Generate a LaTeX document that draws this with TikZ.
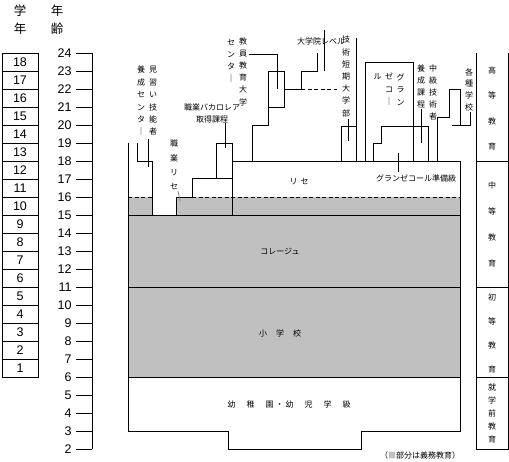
\documentclass[tikz,border=0pt]{standalone}
\usepackage{fontspec}
\setmainfont{Liberation Sans}
\newfontfamily\jp{Noto Sans CJK JP}
\usetikzlibrary{positioning}
\definecolor{dutygray}{RGB}{192,192,192}

\tikzset{
    jtext/.style={font=\jp\fontsize{8}{12}\selectfont, inner sep=0pt, align=center},
    jvert/.style={inner sep=0pt, align=center, font=\jp\fontsize{8}{#1}\selectfont},
    jhead/.style={inner sep=0pt, font=\jp\fontsize{12.5}{14}\selectfont},
    agenum/.style={inner sep=0pt, font=\fontsize{12.5}{14}\selectfont},
    gradebox/.style={draw, minimum width=36pt, minimum height=18pt, inner sep=0pt,
        font=\fontsize{12.5}{14}\selectfont},
    dashline/.style={dash pattern=on 4pt off 2.5pt},
}

\begin{document}
\begin{tikzpicture}[x=1pt, y=-1pt, line width=0.9pt]
    \useasboundingbox (0,0) rectangle (509,461);

    % headers
    \node[jhead] (hdgrade1) at (20,11) {学};
    \node[jhead] (hdgrade2) at (20,29) {年};
    \node[jhead] (hdage1) at (57,11) {年};
    \node[jhead] (hdage2) at (57,29) {齢};

    % school years
    \foreach \g in {1,...,18}
        \node[gradebox] (gr\g) at (20,{386-18*\g}) {\g};

    % age scale
    \foreach \a in {2,...,24} {
        \node[agenum, anchor=east] (age\a) at (72,{485-18*\a}) {\a};
        \coordinate (tick\a) at (92,{485-18*\a});
        \draw ([xshift=4pt]age\a.east) -- (tick\a);
    }
    \draw (tick24) -- (tick2);

    % compulsory part
    \fill[dutygray] (128,215) rectangle (460,377);
    \fill[dutygray] (128,197) rectangle (152,215);
    \fill[dutygray] (176,197) rectangle (460,215);

    % main frame
    \draw (128,143) -- (128,431) -- (228,431) -- (228,449) -- (361,449)
        -- (361,431) -- (460,431) -- (460,161) -- (232,161);
    \draw (128,377) -- (460,377);
    \draw (128,287) -- (460,287);
    \draw (128,215) -- (460,215);
    \draw[dashline] (128,197) -- (152,197);
    \draw[dashline] (192,197) -- (460,197);

    % apprentices
    \draw (137,143) -- (137,161) -- (152,161) -- (152,215);
    \draw (148,139) -- (148,167);
    % vocational lycee
    \draw (176,215) -- (176,197) -- (192,197) -- (192,178) -- (216,178)
        -- (216,143) -- (232,143) -- (232,215);
    \draw (216,178) -- (232,178);
    \draw (225,123) -- (225,148);
    \draw[gray, line width=0.7pt] (178,191) -- (180,201);

    % teacher training
    \draw (252,161) -- (252,125) -- (268,125) -- (268,107);
    \draw (268,71) rectangle (284,107);
    \draw (249,54) -- (277,54) -- (277,89);
    % graduate level
    \draw (284,89) -- (301,89) -- (301,71) -- (317,71) -- (317,53);
    \draw[dashline] (301,89) -- (337,89);
    \draw (324,30) -- (324,71);
    % technical institutes
    \draw (341,161) -- (341,126) -- (356,126);
    \draw (356,38) -- (356,161);
    \draw (348,119) -- (348,141);
    % grandes ecoles
    \draw (365,161) -- (365,62) -- (413,62) -- (413,161);
    \draw (373,161) -- (373,143) -- (381,143) -- (381,126) -- (428,126) -- (428,161);
    \draw (398,153) -- (398,172);
    \draw (421,109) -- (421,143);
    % other schools
    \draw (437,161) -- (437,117) -- (449,117) -- (449,89) -- (460,89) -- (460,125);
    \draw (470,112) -- (470,125) -- (452,125);

    % stages column
    \draw (476,53) -- (476,449) -- (508,449) -- (508,53);
    \draw (476,161) -- (508,161);
    \draw (476,287) -- (508,287);
    \draw (476,377) -- (508,377);

    % labels
    \node[jvert=12.4] (cfa2) at (153,101) {見\\習\\い\\技\\能\\者};
    \node[jvert=12.4] (cfa1) at (141,101) {養\\成\\セ\\ン\\タ\\｜};
    \node[jvert=14.3] (lpro) at (174,165) {職\\業\\リ\\セ};
    \node[jvert=12] (bacpro) at (212,113) {職業バカロレア\\取得課程};
    \node[jvert=12] (iufm1) at (231,61) {セ\\ン\\タ\\｜};
    \node[jvert=12.2] (iufm2) at (243,71.5) {教\\員\\教\\育\\大\\学};
    \node[jtext] (grad) at (321,41) {大学院レベル};
    \node[jvert=12.2] (iut) at (346,76.5) {技\\術\\短\\期\\大\\学\\部};
    \node[jvert=12.5] (ge1) at (400.5,89.5) {グ\\ラ\\ン};
    \node[jvert=12.5] (ge2) at (389,89.5) {ゼ\\コ\\｜};
    \node[jvert=12.5] (ge3) at (377.5,77) {ル};
    \node[jvert=12] (sts2) at (433,92) {中\\級\\技\\術\\者};
    \node[jvert=12] (sts1) at (421,86) {養\\成\\課\\程};
    \node[jvert=11.7] (misc) at (469,89.5) {各\\種\\学\\校};
    \node[jtext] (cpge) at (416,178) {グランゼコール準備級};
    \node[jtext] (lycee) at (299,182) {リ\hspace{3pt}セ};
    \node[jtext] (college) at (280,251) {コレージュ};
    \node[jtext] (primary) at (280,333) {小\hspace{9pt}学\hspace{9pt}校};
    \node[jtext] (kinder) at (289,404)
        {幼\hspace{11pt}稚\hspace{11pt}園\hspace{2pt}・\hspace{2pt}幼\hspace{11pt}児\hspace{11pt}学\hspace{11pt}級};
    \node[jtext] (note) at (420,455) {（\textcolor{dutygray}{■}部分は義務教育）};

    \node[jvert=25.6] (st1) at (492,108.5) {高\\等\\教\\育};
    \node[jvert=26] (st2) at (492,224) {中\\等\\教\\育};
    \node[jvert=24.3] (st3) at (492,333.5) {初\\等\\教\\育};
    \node[jvert=12.8] (st4) at (492,413.5) {就\\学\\前\\教\\育};
\end{tikzpicture}
\end{document}
